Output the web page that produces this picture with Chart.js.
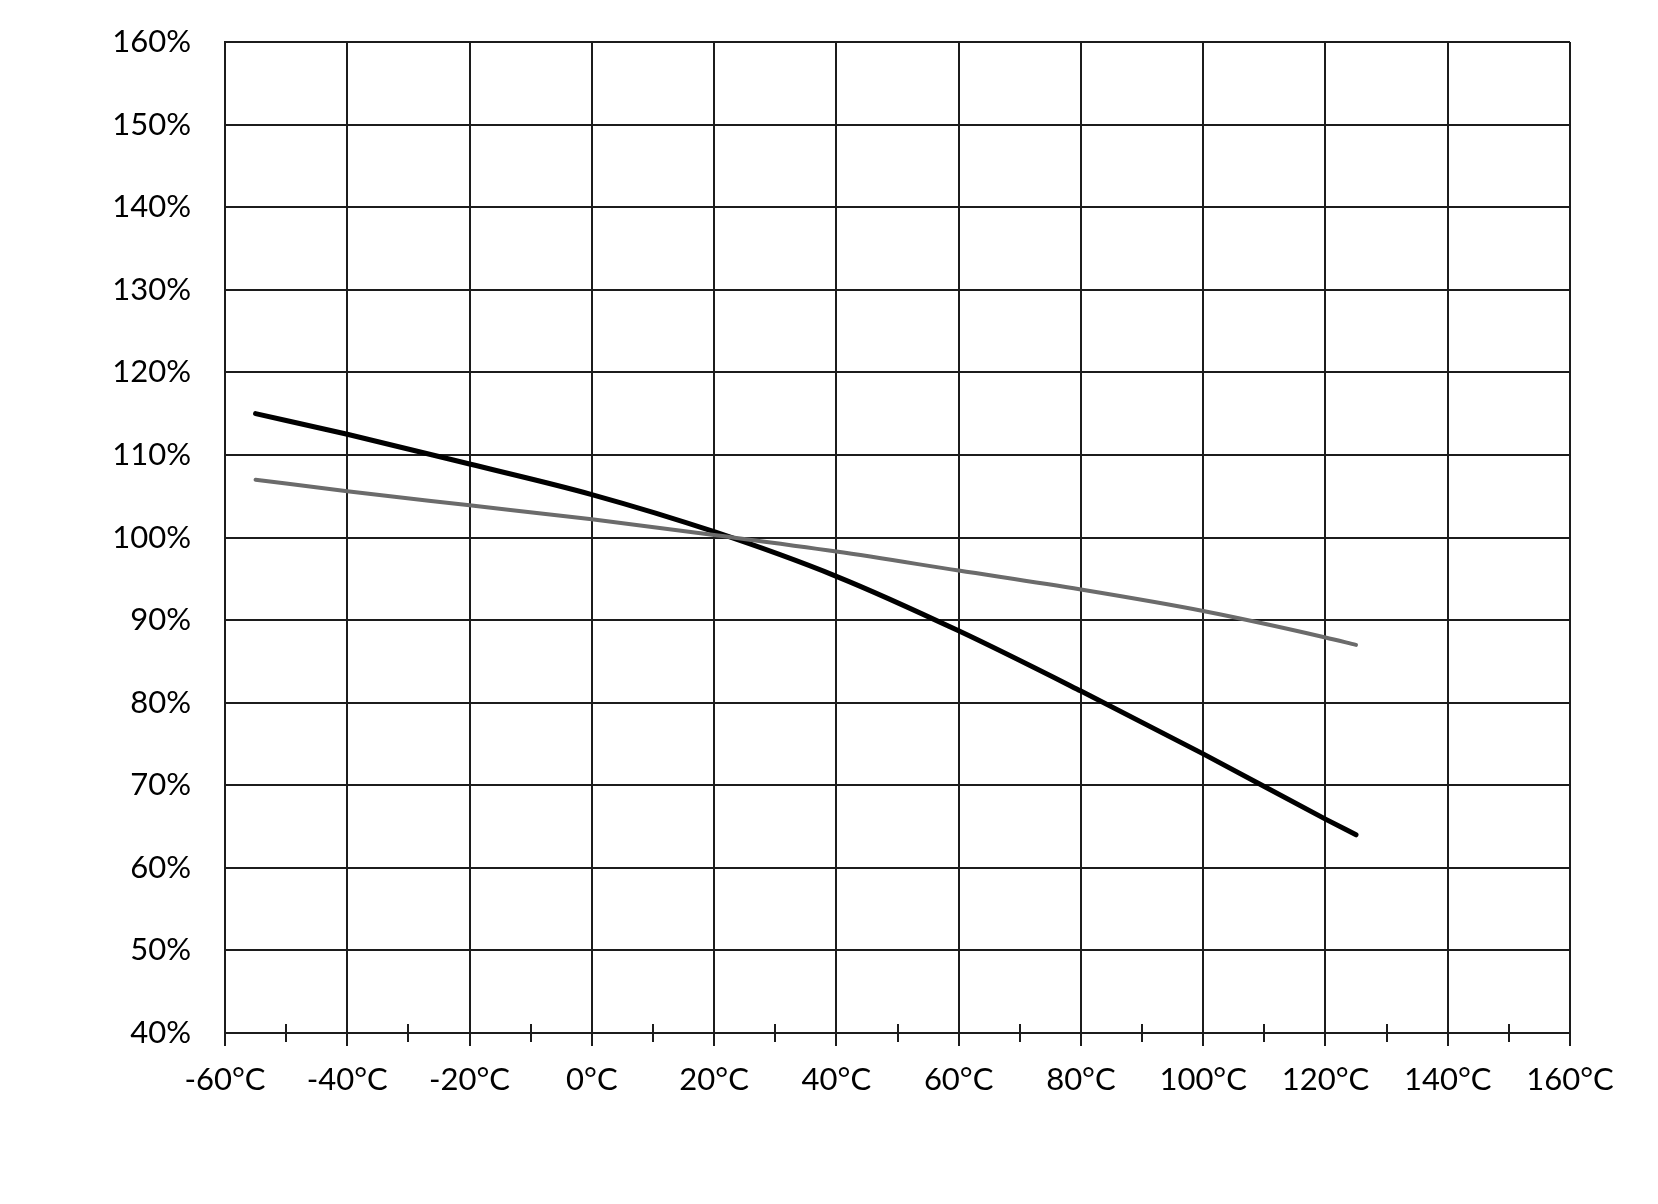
<!DOCTYPE html>
<html>
<head>
<meta charset="utf-8">
<script src="https://cdn.jsdelivr.net/npm/chart.js@4.4.0/dist/chart.umd.min.js"></script>
<style>
html,body{margin:0;padding:0;background:#fff;}
#wrap{width:1658px;height:1204px;}
</style>
</head>
<body>
<div id="wrap"><canvas id="chart" width="1658" height="1204"></canvas></div>
<script>
// temperature points (°C)
let temps = [-55,-40,-20,0,20,40,60,80,100,120,125]
// black curve (%)
let seriesA = [115,112.5,108.9,105.2,100.7,95.3,88.7,81.4,73.8,65.9,64]
// grey curve (%)
let seriesB = [107,105.6,103.9,102.2,100.3,98.3,96,93.7,91.1,87.9,87]
let minorTicks = [-50,-30,-10,10,30,50,70,90,110,130,150]

let gridCol = "#1c1c1c"

let minorTickPlugin = {
id:"minorTicks",
afterDraw(chart){
let ctx = chart.ctx
let xs = chart.scales.x
let y0 = chart.chartArea.bottom
ctx.save()
ctx.strokeStyle = gridCol
ctx.lineWidth = 2
minorTicks.forEach(v=>{
let px = Math.round(xs.getPixelForValue(v))
ctx.beginPath()
ctx.moveTo(px,y0-9)
ctx.lineTo(px,y0+9)
ctx.stroke()
})
ctx.restore()
}
}

let ctx = document.getElementById("chart").getContext("2d")

new Chart(ctx,{
type:"line",
data:{
datasets:[
{
data:temps.map((t,i)=>({x:t,y:seriesB[i]})),
borderColor:"#6b6b6b",
borderWidth:4,
pointRadius:0,
cubicInterpolationMode:"monotone",
borderCapStyle:"round"
},
{
data:temps.map((t,i)=>({x:t,y:seriesA[i]})),
borderColor:"#000000",
borderWidth:5,
pointRadius:0,
cubicInterpolationMode:"monotone",
borderCapStyle:"round"
}
]
},
options:{
responsive:false,
animation:false,
layout:{padding:{top:0,right:88,left:0,bottom:0}},
plugins:{legend:{display:false},tooltip:{enabled:false}},
scales:{
x:{
type:"linear",
min:-60,max:160,
afterFit(s){ s.height = 171 },
ticks:{
stepSize:20,
padding:15,
maxRotation:0,
color:"#000",
font:{family:"Lato",size:31},
callback:v=>v+"°C"
},
grid:{color:gridCol,lineWidth:2,tickLength:13,tickColor:gridCol},
border:{color:gridCol,width:2}
},
y:{
min:40,max:160,
afterFit(s){ s.width = 225; s.paddingTop = 42 },
ticks:{
stepSize:10,
padding:34,
color:"#000",
font:{family:"Lato",size:31},
callback:v=>v+"%"
},
grid:{color:gridCol,lineWidth:2,drawTicks:false},
border:{color:gridCol,width:2}
}
}
},
plugins:[minorTickPlugin]
})
</script>
</body>
</html>
